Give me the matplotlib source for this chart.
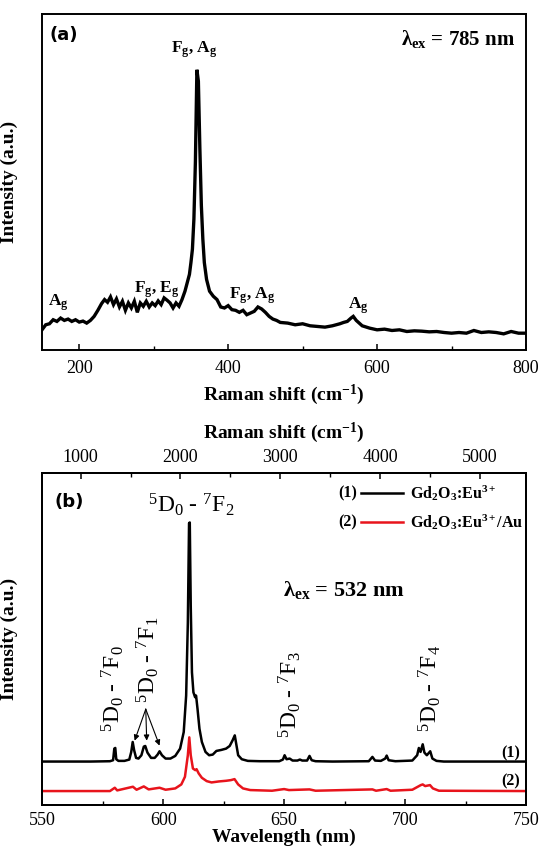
import matplotlib
matplotlib.use('Agg')
import matplotlib.pyplot as plt
from matplotlib.ticker import MultipleLocator

plt.rcParams.update({
    'font.family': ['Liberation Serif', 'DejaVu Serif'],
    'mathtext.fontset': 'custom',
    'mathtext.rm': 'Liberation Serif',
    'mathtext.it': 'Liberation Serif:italic',
    'mathtext.bf': 'Liberation Serif:bold',
    'mathtext.default': 'regular',
    'axes.linewidth': 1.4,
    'xtick.direction': 'in',
    'ytick.direction': 'in',
})

# ---------------- Panel (a): Raman spectrum, lambda_ex = 785 nm ----------------
raman_shift = [150, 155, 160, 165, 170, 175, 180, 185, 190, 195, 200, 205, 210, 215, 220,
               225, 230, 234, 238, 242, 246, 250, 254, 258, 262, 266, 270, 274, 278, 282,
               286, 290, 294, 298, 302, 306, 310, 314, 318, 322, 326, 330, 334, 338, 342,
               345, 348, 350, 352, 354, 356, 358, 360, 362, 364, 366, 368, 371, 375, 380,
               385, 390, 395, 400, 405, 410, 415, 420, 425, 430, 435, 440, 445, 450, 455,
               460, 465, 470, 480, 490, 500, 510, 520, 530, 540, 550, 555, 560, 565, 568,
               572, 576, 580, 590, 600, 610, 620, 630, 640, 650, 660, 670, 680, 690, 700,
               710, 720, 730, 740, 750, 760, 770, 780, 790, 800]
raman_int = [0.060, 0.075, 0.078, 0.090, 0.085, 0.095, 0.088, 0.092, 0.085, 0.090, 0.083,
             0.086, 0.080, 0.088, 0.100, 0.118, 0.138, 0.150, 0.142, 0.158, 0.135, 0.152,
             0.128, 0.145, 0.118, 0.140, 0.125, 0.145, 0.112, 0.140, 0.130, 0.145, 0.128,
             0.140, 0.132, 0.146, 0.135, 0.155, 0.148, 0.140, 0.125, 0.140, 0.130, 0.150,
             0.175, 0.200, 0.225, 0.260, 0.300, 0.390, 0.560, 0.834, 0.800, 0.600, 0.430,
             0.330, 0.260, 0.210, 0.175, 0.160, 0.150, 0.128, 0.125, 0.132, 0.120, 0.118,
             0.112, 0.118, 0.105, 0.110, 0.115, 0.128, 0.122, 0.112, 0.100, 0.092, 0.088,
             0.082, 0.080, 0.075, 0.078, 0.072, 0.070, 0.068, 0.072, 0.078, 0.082, 0.085,
             0.095, 0.100, 0.088, 0.080, 0.072, 0.065, 0.060, 0.062, 0.058, 0.060, 0.055,
             0.057, 0.056, 0.054, 0.055, 0.052, 0.050, 0.052, 0.050, 0.058, 0.052, 0.054,
             0.052, 0.048, 0.055, 0.050, 0.050]

# ---------------- Panel (b): luminescence, lambda_ex = 532 nm ----------------
wl_1 = [550, 570, 578, 579.3, 579.8, 580.2, 580.6, 581.5, 584, 586, 586.8, 587.4, 588, 588.8,
        589.8, 591, 592, 592.6, 593.5, 595, 596.5, 597.7, 598.5, 599.5, 601, 603, 605, 607,
        608.5, 609.5, 610.2, 610.7, 611.0, 611.4, 611.9, 612.5, 613.2, 613.6, 614.2, 615, 616,
        617.5, 619, 620.5, 622, 624, 626, 627.5, 628.7, 629.6, 630.3, 631, 632.5, 635, 640,
        648, 649.5, 650.2, 651, 652.3, 653.5, 655.5, 656.5, 657.5, 659.5, 660.5, 661.4, 663,
        670, 685, 686.5, 687.6, 690, 691.8, 692.4, 693.2, 696, 703, 705, 705.7, 706.4, 707.3,
        708, 709, 710.4, 711.3, 713, 716, 750]
int_1 = [0.131, 0.131, 0.132, 0.135, 0.170, 0.172, 0.138, 0.133, 0.133, 0.137, 0.160, 0.190,
         0.165, 0.142, 0.140, 0.150, 0.176, 0.178, 0.158, 0.142, 0.142, 0.152, 0.162, 0.150,
         0.140, 0.140, 0.148, 0.170, 0.220, 0.330, 0.550, 0.850, 0.852, 0.600, 0.400, 0.340,
         0.325, 0.330, 0.290, 0.230, 0.190, 0.160, 0.150, 0.152, 0.163, 0.166, 0.170, 0.178,
         0.195, 0.210, 0.180, 0.150, 0.138, 0.133, 0.132, 0.132, 0.137, 0.150, 0.138, 0.140,
         0.134, 0.134, 0.137, 0.134, 0.134, 0.148, 0.135, 0.132, 0.131, 0.132, 0.145, 0.134,
         0.133, 0.140, 0.149, 0.135, 0.132, 0.134, 0.150, 0.172, 0.160, 0.183, 0.158, 0.150,
         0.162, 0.140, 0.133, 0.131, 0.131]

wl_2 = [550, 578, 580, 581, 587.5, 589, 592, 594, 598.5, 601, 605, 607.5, 609, 610.2, 610.8,
        611.4, 612.3, 613.3, 613.8, 614.7, 616, 618, 620, 623, 626, 628, 629.5, 631, 633, 636,
        645, 650, 652, 660.5, 663, 686.5, 688, 692.4, 694, 703, 705.5, 706.5, 707.3, 708.3,
        710.3, 711.5, 714, 750]
int_2 = [0.042, 0.042, 0.052, 0.044, 0.055, 0.046, 0.056, 0.047, 0.052, 0.046, 0.050, 0.062,
         0.085, 0.150, 0.204, 0.150, 0.110, 0.105, 0.108, 0.095, 0.082, 0.072, 0.068, 0.071,
         0.073, 0.075, 0.078, 0.062, 0.050, 0.045, 0.043, 0.048, 0.045, 0.047, 0.043, 0.047,
         0.043, 0.048, 0.043, 0.046, 0.056, 0.060, 0.062, 0.057, 0.060, 0.050, 0.043, 0.042]

series_labels = [r'Gd$_2$O$_3$:Eu$^{3+}$', r'Gd$_2$O$_3$:Eu$^{3+}$/Au']
series_colors = ['black', '#e8141c']
top_shift_range = [615, 5464]   # Raman shift (cm-1) at 550 nm and 750 nm

fig = plt.figure(figsize=(5.42, 8.47), dpi=100)

# ===== Panel (a) =====
axa = fig.add_axes([0.0775, 0.5868, 0.893, 0.3967])
axa.plot(raman_shift, raman_int, color='black', lw=2.4, solid_joinstyle='miter')
axa.set_xlim(150, 800)
axa.set_ylim(0, 1)
axa.set_yticks([])
axa.xaxis.set_major_locator(MultipleLocator(200))
axa.xaxis.set_minor_locator(MultipleLocator(100))
axa.tick_params(axis='x', which='major', length=4.5, width=1.1, labelsize=13, pad=7)
axa.tick_params(axis='x', which='minor', length=3, width=1.0)
axa.set_xlabel(r'Raman shift (cm$^{-1}$)', fontsize=14, fontweight='bold', labelpad=4)
axa.set_ylabel('Intensity (a.u.)', fontsize=14, fontweight='bold')
axa.yaxis.set_label_coords(-0.05, 0.5)

axa.text(0.045, 0.938, '(a)', transform=axa.transAxes, fontsize=13, fontweight='bold',
         family=['DejaVu Sans'], ha='center', va='center')
axa.text(0.86, 0.925, r'$\lambda_{ex}$ = 785 nm', transform=axa.transAxes, fontsize=15,
         fontweight='bold', ha='center', va='center')
ann_a = dict(fontsize=12.5, fontweight='bold', ha='center', va='center')
axa.text(355, 0.895, r'F$_g$, A$_g$', **ann_a)
axa.text(304, 0.178, r'F$_g$, E$_g$', **ann_a)
axa.text(432, 0.162, r'F$_g$, A$_g$', **ann_a)
axa.text(172, 0.140, r'A$_g$', **ann_a)
axa.text(575, 0.132, r'A$_g$', **ann_a)

# ===== Panel (b) =====
axb = fig.add_axes([0.0779, 0.0496, 0.8926, 0.3915])
axb.plot(wl_1, int_1, color=series_colors[0], lw=1.8)
axb.plot(wl_2, int_2, color=series_colors[1], lw=1.8)
axb.set_xlim(550, 750)
axb.set_ylim(0, 1)
axb.set_yticks([])
axb.xaxis.set_major_locator(MultipleLocator(50))
axb.xaxis.set_minor_locator(MultipleLocator(25))
axb.tick_params(axis='x', which='major', length=4.5, width=1.1, labelsize=13, pad=5)
axb.tick_params(axis='x', which='minor', length=3, width=1.0)
axb.set_xlabel('Wavelength (nm)', fontsize=14, fontweight='bold', labelpad=0)
axb.set_ylabel('Intensity (a.u.)', fontsize=14, fontweight='bold')
axb.yaxis.set_label_coords(-0.05, 0.5)

axt = axb.twiny()
axt.set_xlim(*top_shift_range)
axt.xaxis.set_major_locator(MultipleLocator(1000))
axt.xaxis.set_minor_locator(MultipleLocator(500))
axt.tick_params(axis='x', which='major', length=4.5, width=1.1, labelsize=13, pad=5)
axt.tick_params(axis='x', which='minor', length=3, width=1.0)
axt.set_xlabel(r'Raman shift (cm$^{-1}$)', fontsize=14, fontweight='bold', labelpad=8)

axb.text(0.056, 0.915, '(b)', transform=axb.transAxes, fontsize=13, fontweight='bold',
         family=['DejaVu Sans'], ha='center', va='center')
axb.text(0.309, 0.905, r'$^5$D$_0$ - $^7$F$_2$', transform=axb.transAxes, fontsize=17,
         ha='center', va='center')
axb.text(0.624, 0.649, r'$\lambda_{ex}$ = 532 nm', transform=axb.transAxes, fontsize=16,
         fontweight='bold', ha='center', va='center')

rot_kw = dict(transform=axb.transAxes, fontsize=17, rotation=90, ha='center', va='center')
axb.text(0.146, 0.351, r'$^5$D$_0$ - $^7$F$_0$', **rot_kw)
axb.text(0.219, 0.439, r'$^5$D$_0$ - $^7$F$_1$', **rot_kw)
axb.text(0.511, 0.332, r'$^5$D$_0$ - $^7$F$_3$', **rot_kw)
axb.text(0.800, 0.351, r'$^5$D$_0$ - $^7$F$_4$', **rot_kw)

for tx, ty in [(588.2, 0.194), (593.2, 0.194), (598.5, 0.179)]:
    axb.annotate('', xy=(tx, ty), xytext=(592.8, 0.289),
                 arrowprops=dict(arrowstyle='-|>', color='black', lw=0.8,
                                 mutation_scale=8, shrinkA=0, shrinkB=0))

# legend drawn manually
for i, (lab, col) in enumerate(zip(series_labels, series_colors)):
    yy = [0.940, 0.853][i]
    axb.text(0.650, yy, f'({i + 1})', transform=axb.transAxes, fontsize=11.5,
             fontweight='bold', ha='right', va='center')
    axb.plot([0.659, 0.745], [yy, yy], transform=axb.transAxes, color=col, lw=1.8)
    axb.text(0.760, yy, lab, transform=axb.transAxes, fontsize=11.5, fontweight='bold',
             ha='left', va='center')

axb.text(0.968, 0.157, '(1)', transform=axb.transAxes, fontsize=11.5, fontweight='bold',
         ha='center', va='center')
axb.text(0.968, 0.072, '(2)', transform=axb.transAxes, fontsize=11.5, fontweight='bold',
         ha='center', va='center')

fig.savefig('out.png', dpi=100)
